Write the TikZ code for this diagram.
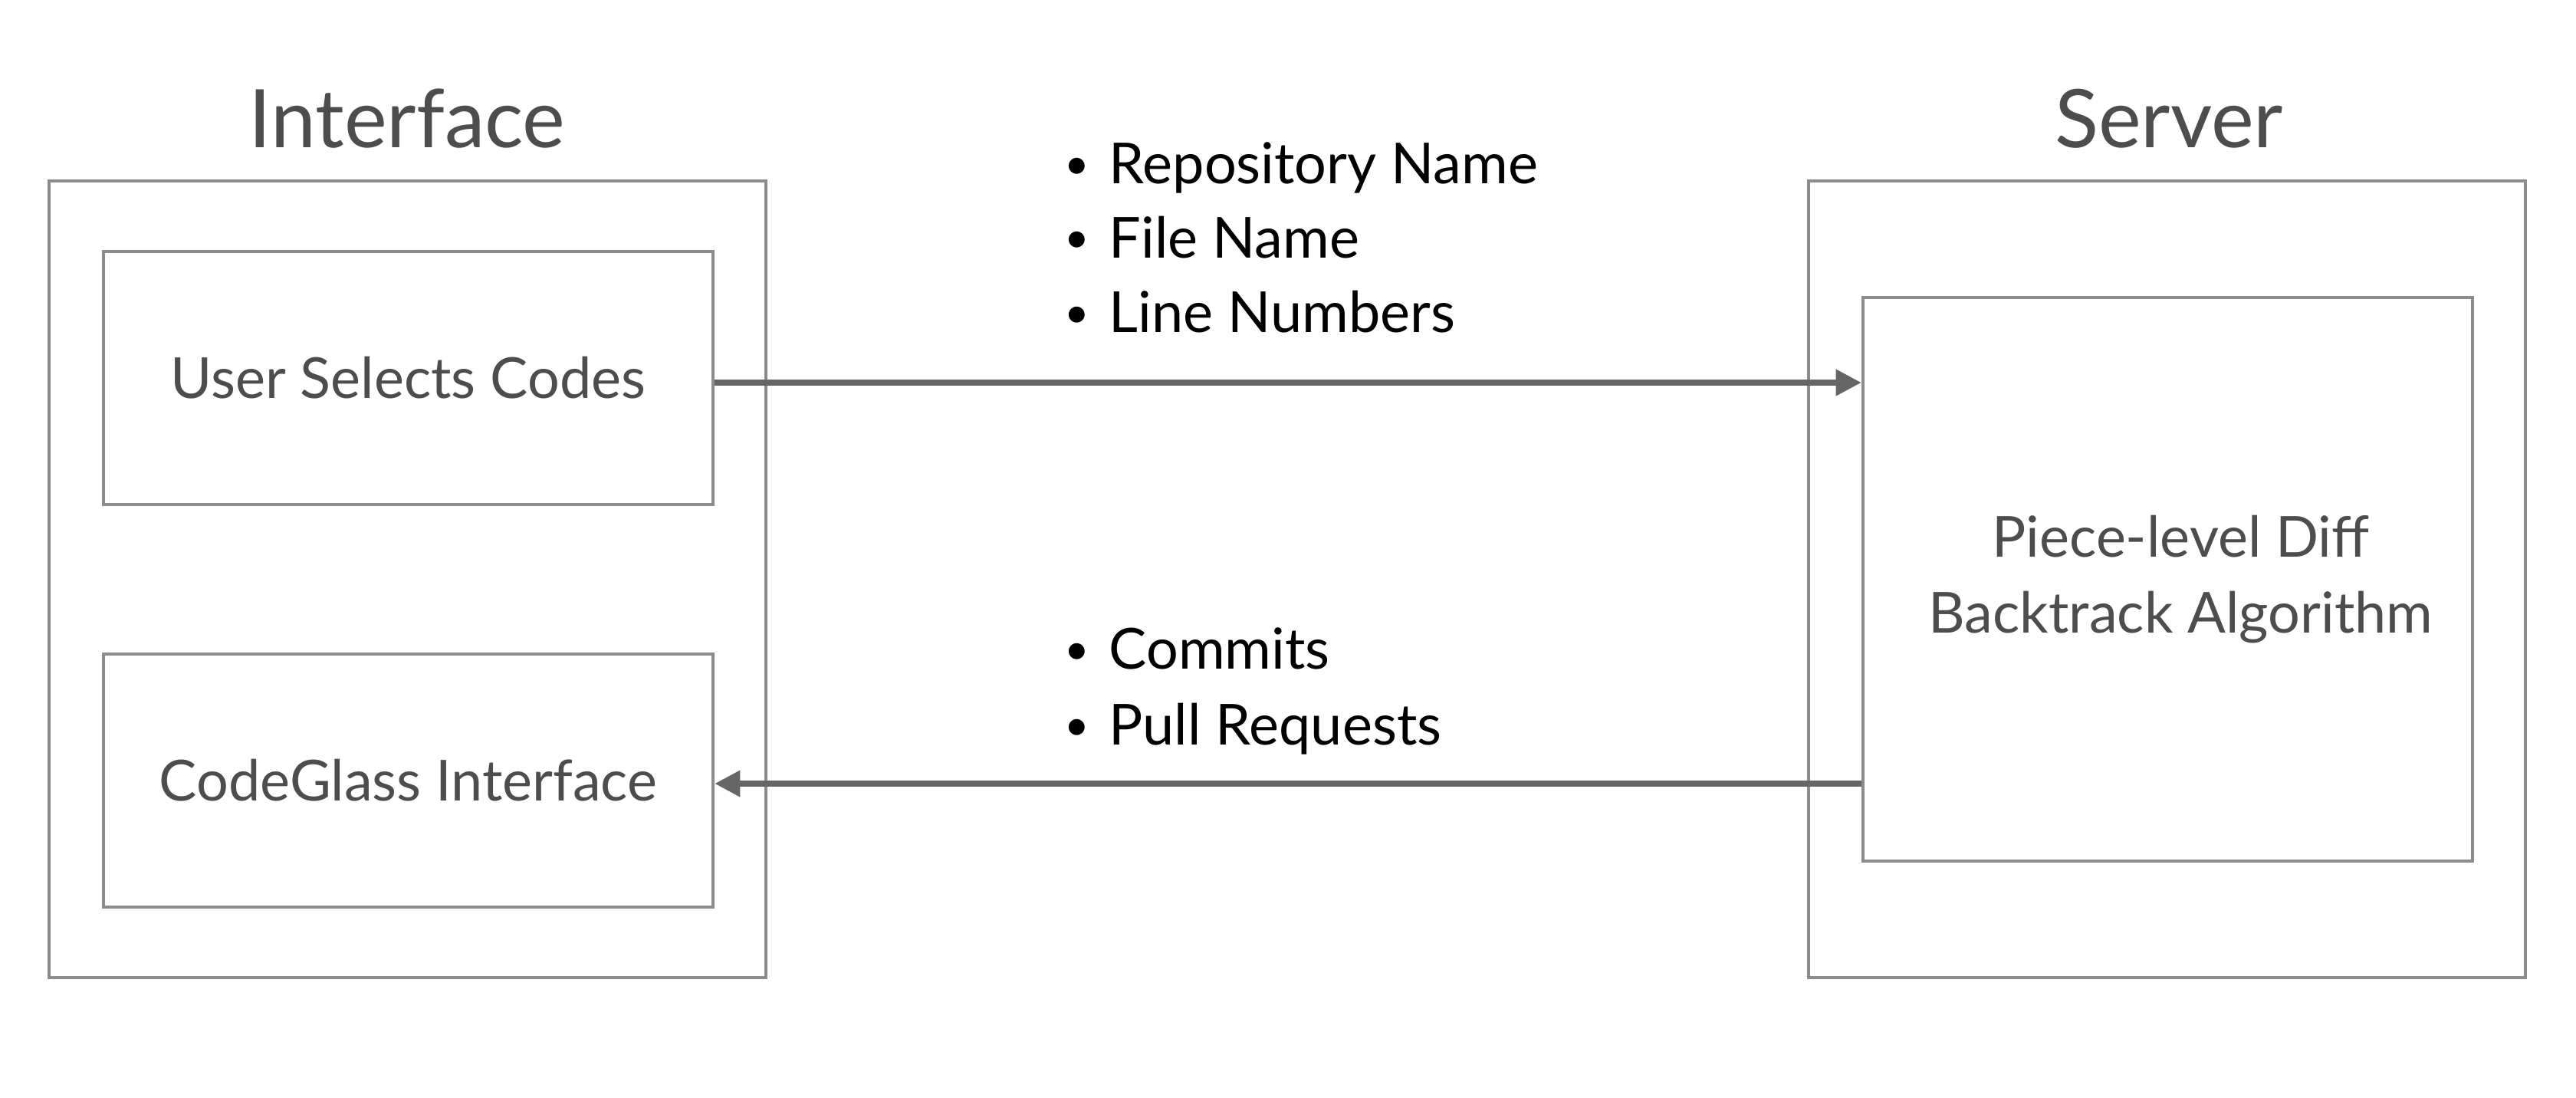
\documentclass[tikz,border=0pt]{standalone}
\usepackage{fontspec}
\setmainfont{Lato}
\usetikzlibrary{arrows.meta}
\definecolor{boxgray}{HTML}{8A8C90}
\definecolor{txtgray}{HTML}{4D4D4D}
\definecolor{arrgray}{HTML}{666666}
\newcommand{\itm}[1]{\makebox[0.58cm][l]{\raisebox{0.06cm}{\fontsize{16}{16}\selectfont\textbullet}}#1}
\begin{document}
\begin{tikzpicture}[
  outerbox/.style={draw=boxgray, line width=1.3pt, minimum width=9.35cm, minimum height=10.39cm},
  innerbox/.style={draw=boxgray, line width=1.3pt, minimum width=7.95cm, text=txtgray, font=\fontsize{21}{28}\selectfont, align=center},
  title/.style={text=txtgray, font=\fontsize{30}{36}\selectfont, anchor=base, inner sep=0pt},
  item/.style={font=\fontsize{21}{28}\selectfont, anchor=base west, inner sep=0pt},
  flow/.style={draw=arrgray, line width=2pt, -{Triangle[length=0.33cm, width=0.33cm]}}
]
  \useasboundingbox (0,0) rectangle (33.6,-14.32);
  % left side
  \node[outerbox] (iface) at (5.315,-7.555) {};
  \node[innerbox, minimum height=3.30cm] (usel) at (5.325,-4.93) {User Selects Codes};
  \node[innerbox, minimum height=3.30cm] (cgl) at (5.325,-10.18) {CodeGlass Interface};
  \node[title] (ifacet) at (5.31,-1.93) {Interface};
  % right side
  \node[outerbox] (srv) at (28.265,-7.555) {};
  \node[innerbox, minimum height=7.35cm] (algo) at (28.275,-7.555) {\hspace{0.34cm}Piece-level Diff\\\hspace{0.34cm}Backtrack Algorithm};
  \node[title] (srvt) at (28.29,-1.93) {Server};
  % messages
  \node[item] (m1) at (13.88,-2.40) {\itm{Repository Name}};
  \node[item] (m2) at (13.88,-3.36) {\itm{File Name}};
  \node[item] (m3) at (13.88,-4.33) {\itm{Line Numbers}};
  \node[item] (r1) at (13.88,-8.72) {\itm{Commits}};
  \node[item] (r2) at (13.88,-9.71) {\itm{Pull Requests}};
  \coordinate (fwd) at ([yshift=-0.06cm]usel.east);
  \coordinate (back) at ([yshift=-0.04cm]algo.west |- cgl.east);
  \draw[flow] (fwd) -- (algo.west |- fwd);
  \draw[flow] (back) -- (cgl.east |- back);
\end{tikzpicture}
\end{document}
